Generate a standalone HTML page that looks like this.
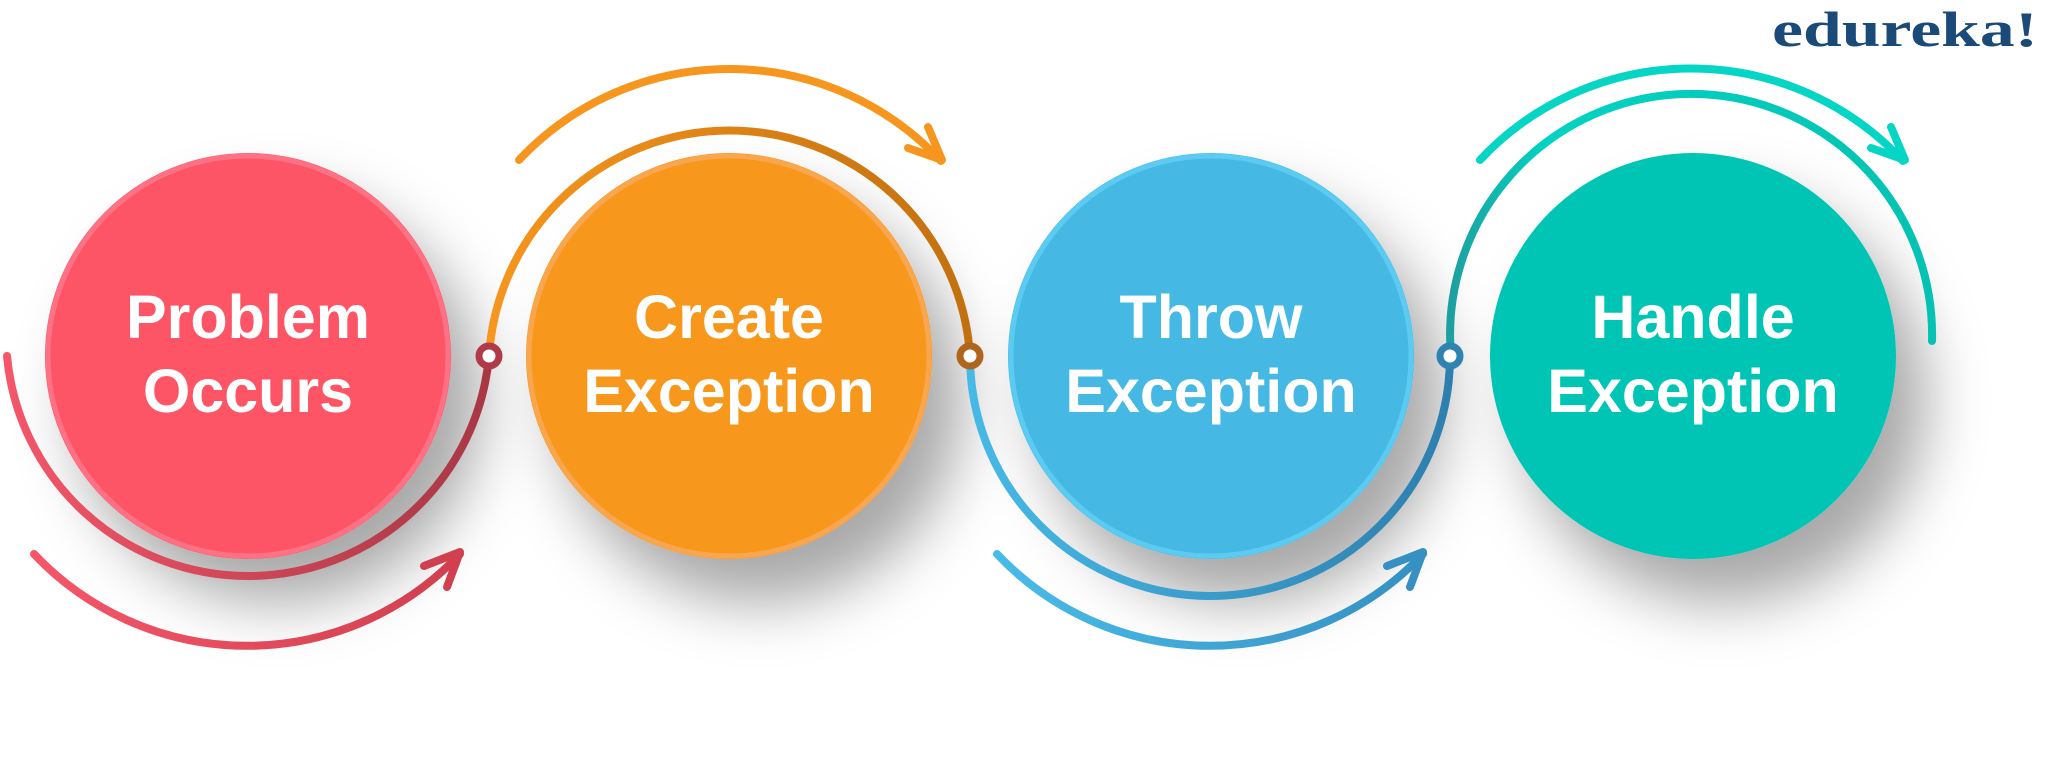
<!DOCTYPE html>
<html><head><meta charset="utf-8"><style>
html,body{margin:0;padding:0;background:#fff;}
svg{display:block;}
</style></head><body>
<svg width="2048" height="764" viewBox="0 0 2048 764" xmlns="http://www.w3.org/2000/svg">
<defs>
<filter id="sh" x="-40%" y="-40%" width="200%" height="210%">
<feDropShadow dx="30" dy="44" stdDeviation="30" flood-color="#000" flood-opacity="0.34"/>
</filter>
<linearGradient id="g1" x1="0" x2="1" y1="0" y2="0"><stop offset="0" stop-color="#f4566a"/><stop offset="1" stop-color="#a83744"/></linearGradient>
<linearGradient id="g1o" x1="0" x2="1"><stop offset="0" stop-color="#f5566a"/><stop offset="1" stop-color="#d0404f"/></linearGradient>
<linearGradient id="g2" x1="0" x2="1"><stop offset="0" stop-color="#f7961e"/><stop offset="1" stop-color="#c2700f"/></linearGradient>
<linearGradient id="g3" x1="0" x2="1"><stop offset="0" stop-color="#47b9e6"/><stop offset="1" stop-color="#2d7fae"/></linearGradient>
<linearGradient id="g3o" x1="0" x2="1"><stop offset="0" stop-color="#49bbe8"/><stop offset="1" stop-color="#3690c2"/></linearGradient>
<linearGradient id="g4" x1="0" x2="1"><stop offset="0" stop-color="#1e9fa0"/><stop offset="0.2" stop-color="#03d3c2"/><stop offset="1" stop-color="#05c2b3"/></linearGradient>
</defs>

<g filter="url(#sh)">
<circle cx="248" cy="356" r="203" fill="#fd5565"/>
<circle cx="729" cy="356" r="203" fill="#f7971f"/>
<circle cx="1211" cy="356" r="203" fill="#45b8e3"/>
<circle cx="1693" cy="356" r="203" fill="#03c5b4"/>
</g>
<circle cx="248" cy="356" r="200" fill="none" stroke="#ff7185" stroke-width="5"/>
<circle cx="729" cy="356" r="200" fill="none" stroke="#f9a64e" stroke-width="5"/>
<circle cx="1211" cy="356" r="200" fill="none" stroke="#5ccbf2" stroke-width="5"/>

<g fill="none" stroke-width="8" stroke-linecap="round" stroke-linejoin="round">
<path d="M 489 356 A 242 242 0 0 1 7 356" stroke="url(#g1)"/>
<path d="M 34 554 A 293 293 0 0 0 460 554" stroke="url(#g1o)"/>
<polyline points="424,566 460,552 447,587" stroke="#d0404f"/>
<path d="M 489 356 A 241 241 0 0 1 970 356" stroke="url(#g2)"/>
<path d="M 519 160 A 289 289 0 0 1 941 161" stroke="#f7961e"/>
<polyline points="908,148 942,160 928,127" stroke="#f7961e"/>
<path d="M 970 356 A 240 240 0 0 0 1450 356" stroke="url(#g3)"/>
<path d="M 997 554 A 293 293 0 0 0 1423 554" stroke="url(#g3o)"/>
<polyline points="1387,566 1423,552 1410,587" stroke="#3690c2"/>
<path d="M 1451 356 A 241 241 0 1 1 1932 341" stroke="url(#g4)"/>
<path d="M 1480 160 A 289 289 0 0 1 1903 161" stroke="#05d5c4"/>
<polyline points="1871,148 1905,160 1891,127" stroke="#05d5c4"/>
</g>

<g fill="#fff" stroke-width="7">
<circle cx="489" cy="356" r="10" stroke="#b03a48"/>
<circle cx="970" cy="356" r="10" stroke="#b0651c"/>
<circle cx="1450" cy="356" r="10" stroke="#2f83b1"/>
</g>

<g font-family="Liberation Sans, sans-serif" font-weight="bold" font-size="61" fill="#fff" text-anchor="middle">
<text x="248" y="338">Problem</text>
<text x="248" y="412">Occurs</text>
<text x="729" y="338">Create</text>
<text x="729" y="412">Exception</text>
<text x="1211" y="338">Throw</text>
<text x="1211" y="412">Exception</text>
<text x="1693" y="338">Handle</text>
<text x="1693" y="412">Exception</text>
</g>

<text x="1772" y="46" font-family="Liberation Serif, serif" font-weight="bold" font-size="50" fill="#1a4a78" textLength="266" lengthAdjust="spacingAndGlyphs">edureka!</text>
</svg>
</body></html>
